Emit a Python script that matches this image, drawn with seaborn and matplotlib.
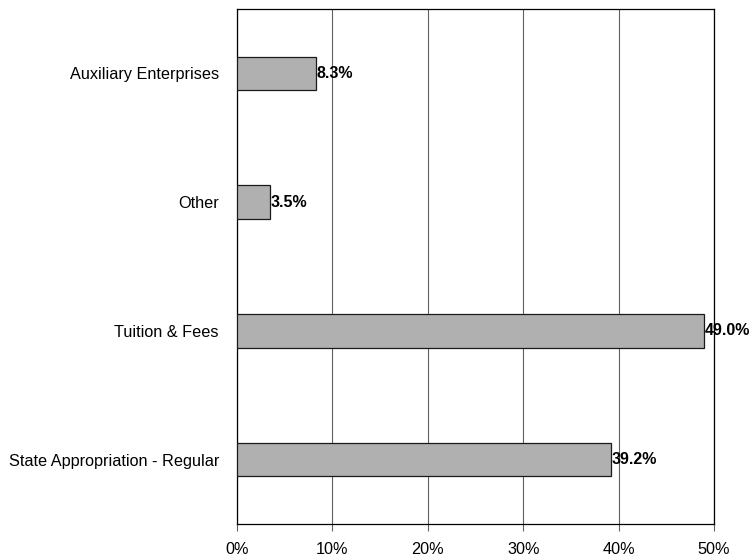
import matplotlib
matplotlib.use("Agg")
import matplotlib.pyplot as plt
import seaborn as sns
import pandas as pd
from matplotlib.ticker import FuncFormatter

categories = ["Auxiliary Enterprises", "Other", "Tuition & Fees", "State Appropriation - Regular"]
shares = [8.3, 3.5, 49.0, 39.2]
tick_values = [0, 10, 20, 30, 40, 50]

sns.set_theme(style="white")
plt.rcParams["font.family"] = ["Liberation Sans", "DejaVu Sans"]

df = pd.DataFrame({"category": categories, "share": shares})

W, H = 753, 560
fig = plt.figure(figsize=(W / 100, H / 100), dpi=100)
ax = fig.add_axes([237 / W, 1 - 524 / H, (714 - 237) / W, (524 - 9) / H])

sns.barplot(data=df, x="share", y="category", order=categories, orient="h",
            color="#b0b0b0", saturation=1, width=0.26,
            edgecolor="#1a1a1a", linewidth=0.9, ax=ax, zorder=3)

for bar, val in zip(ax.patches, shares):
    y = bar.get_y() + bar.get_height() / 2
    ax.text(bar.get_width() + 0.05, y, f"{val:.1f}%", va="center", ha="left",
            fontsize=11.5, fontweight="bold", color="black", zorder=4)

ax.set_xlim(0, 50)
ax.set_ylim(3.5, -0.5)
ax.set_xticks(tick_values)
ax.xaxis.set_major_formatter(FuncFormatter(lambda v, p: f"{v:.0f}%"))
ax.grid(axis="x", color="#606060", linewidth=0.8, zorder=0)
ax.grid(axis="y", visible=False)
ax.set_xlabel("")
ax.set_ylabel("")

for s in ax.spines.values():
    s.set_color("black")
    s.set_linewidth(0.9)

ax.tick_params(axis="x", which="major", bottom=True, length=5, width=0.8,
               color="#606060", labelsize=11.7, pad=8)
ax.tick_params(axis="y", left=False, length=0, labelsize=11.7, pad=13)
for lbl in ax.get_xticklabels() + ax.get_yticklabels():
    lbl.set_color("black")

fig.savefig("out.png", dpi=100, facecolor="white")
